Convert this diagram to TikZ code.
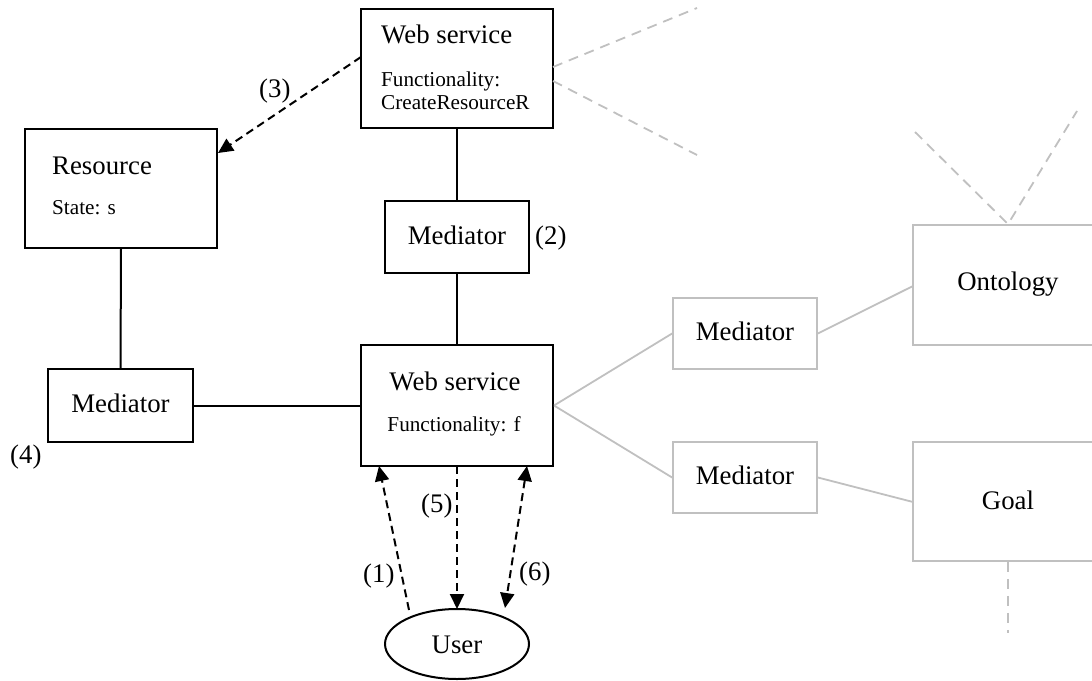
\documentclass[tikz,border=0pt]{standalone}
\usepackage{fontspec}
\setmainfont{Liberation Serif}
\usetikzlibrary{arrows.meta,shapes.geometric}
\definecolor{lgray}{RGB}{192,192,192}
\tikzset{
  box/.style={draw=black, line width=2pt, inner sep=0pt},
  gbox/.style={draw=lgray, line width=1.8pt, inner sep=0pt},
  big/.style={font=\fontsize{26.8}{30}\selectfont, inner sep=0pt},
  small/.style={font=\fontsize{21.2}{23.3}\selectfont, inner sep=0pt},
  conn/.style={draw=black, line width=2pt},
  gconn/.style={draw=lgray, line width=1.8pt},
  gdash/.style={draw=lgray, line width=1.8pt, dash pattern=on 10pt off 7pt},
  darrow/.style={draw=black, line width=2pt, dash pattern=on 8pt off 5pt, -{Triangle[length=15pt,width=14pt]}},
  ddarrow/.style={draw=black, line width=2pt, dash pattern=on 8pt off 5pt, {Triangle[length=15pt,width=14pt]}-{Triangle[length=15pt,width=14pt]}},
}
\begin{document}
\begin{tikzpicture}[x=1pt,y=-1pt]
\useasboundingbox (0,0) rectangle (1092,680);
\clip (0,0) rectangle (1092,680);
% black boxes
\node[box, minimum width=192pt, minimum height=119pt] (ws1) at (457,68.5) {};
\node[big, anchor=base west] (ws1t) at (381,43) {Web service};
\node[small, anchor=base west] (ws1f) at (381,86) {Functionality:};
\node[small, anchor=base west] (ws1c) at (381,109) {CreateResourceR};

\node[box, minimum width=192pt, minimum height=119pt] (res) at (121,188.5) {};
\node[big, anchor=base west] (rest) at (52,174) {Resource};
\node[small, anchor=base west] (ress) at (52,214) {State: s};

\node[box, minimum width=144pt, minimum height=72pt] (med2) at (457,237) {};
\node[big, anchor=base] (med2t) at (457,244) {Mediator};
\node[big, anchor=base west] (l2) at (535,244) {(2)};

\node[box, minimum width=145pt, minimum height=73pt] (medl) at (120.5,405.5) {};
\node[big, anchor=base] (medlt) at (120.5,412) {Mediator};
\node[big, anchor=base west] (l4) at (10,463) {(4)};

\node[box, minimum width=192pt, minimum height=121pt] (ws2) at (457,405.5) {};
\node[big, anchor=base] (ws2t) at (455,390) {Web service};
\node[small, anchor=base] (ws2f) at (454,431) {Functionality: f};

\node[box, ellipse, minimum width=144pt, minimum height=70pt] (user) at (457,644) {};
\node[big, anchor=base] (usert) at (457,653) {User};

% gray boxes
\node[gbox, minimum width=144pt, minimum height=71pt] (gm1) at (745,333.5) {};
\node[big, anchor=base] (gm1t) at (745,340) {Mediator};
\node[gbox, minimum width=144pt, minimum height=71pt] (gm2) at (745,477.5) {};
\node[big, anchor=base] (gm2t) at (745,484) {Mediator};
\node[gbox, minimum width=190pt, minimum height=120pt] (onto) at (1008,285) {};
\node[big, anchor=base] (ontot) at (1008,290) {Ontology};
\node[gbox, minimum width=190pt, minimum height=119pt] (goal) at (1008,501.5) {};
\node[big, anchor=base] (goalt) at (1008,509) {Goal};

% black connectors
\draw[conn] (ws1.south) -- (med2.north);
\draw[conn] (med2.south) -- (ws2.north);
\draw[conn] (res.south) -- (medl.north);
\draw[conn] (medl.east) -- (ws2.west);

% gray connectors
\draw[gconn] (ws2.east) -- (gm1.west);
\draw[gconn] (ws2.east) -- (gm2.west);
\coordinate (o1) at (913,286);
\coordinate (g1) at (913,502);
\draw[gconn] (gm1.east) -- (o1);
\draw[gconn] (gm2.east) -- (g1);

% gray dashed free lines
\coordinate (wsr1) at (553,67);
\coordinate (wsr2) at (553,81);
\coordinate (e1) at (697,8);
\coordinate (e2) at (697,155);
\coordinate (e3) at (915,132);
\coordinate (e4) at (1077,111);
\coordinate (e5) at (1008,633);
\draw[gdash] (wsr1) -- (e1);
\draw[gdash] (wsr2) -- (e2);
\draw[gdash] (e3) -- (onto.north) -- (e4);
\draw[gdash] (goal.south) -- (e5);

% dashed arrows
\coordinate (a3s) at (361,57);
\coordinate (a3e) at (218,153);
\draw[darrow] (a3s) -- (a3e);
\node[big, anchor=base west] (l3) at (259,97) {(3)};

\coordinate (a1s) at (409,610);
\coordinate (a1e) at (379,466);
\draw[darrow] (a1s) -- (a1e);
\node[big, anchor=base west] (l1) at (363,582) {(1)};

\coordinate (a5s) at (457,466);
\coordinate (a5e) at (457,609);
\draw[darrow] (a5s) -- (a5e);
\node[big, anchor=base west] (l5) at (421,512) {(5)};

\coordinate (a6s) at (527,466);
\coordinate (a6e) at (505,608);
\draw[ddarrow] (a6s) -- (a6e);
\node[big, anchor=base west] (l6) at (519,580) {(6)};
\end{tikzpicture}
\end{document}
